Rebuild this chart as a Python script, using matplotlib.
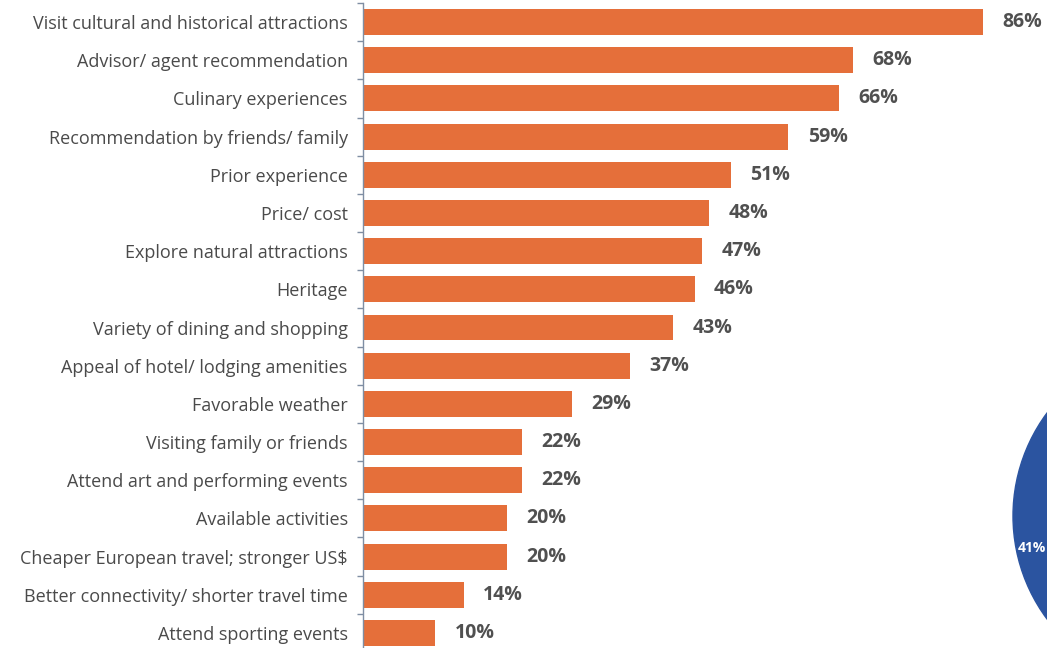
import numpy as np
import matplotlib.pyplot as plt
from matplotlib.patches import Ellipse

# survey answers, top to bottom
categories = [
    'Visit cultural and historical attractions',
    'Advisor/ agent recommendation',
    'Culinary experiences',
    'Recommendation by friends/ family',
    'Prior experience',
    'Price/ cost',
    'Explore natural attractions',
    'Heritage',
    'Variety of dining and shopping',
    'Appeal of hotel/ lodging amenities',
    'Favorable weather',
    'Visiting family or friends',
    'Attend art and performing events',
    'Available activities',
    'Cheaper European travel; stronger US$',
    'Better connectivity/ shorter travel time',
    'Attend sporting events',
]
values = [86, 68, 66, 59, 51, 48, 47, 46, 43, 37, 29, 22, 22, 20, 20, 14, 10]
side_label = '41%'

orange = '#e56f3a'
blue = '#2b54a0'
txt = '#4a4a4a'

plt.rcParams['font.family'] = ['Open Sans', 'DejaVu Sans']

W, H = 1047, 648
fig = plt.figure(figsize=(W / 100, H / 100), dpi=100)
ax = fig.add_axes([363 / W, -4 / H, 684 / W, 649 / H])

y = np.arange(len(categories))
ax.barh(y, values, height=0.68, color=orange)
ax.set_ylim(len(categories) - 0.5, -0.5)
ax.set_xlim(0, 94.9)

for yi, v in zip(y, values):
    ax.annotate(f'{v}%', (v, yi), xytext=(14, 0), textcoords='offset points',
                va='center', ha='left', fontsize=14, fontweight='bold', color='#505050')

ax.set_yticks(y)
ax.set_yticklabels(categories, fontsize=13, color=txt)
ax.tick_params(axis='y', which='major', length=0, pad=11)
ax.set_yticks(np.arange(len(categories) + 1) - 0.5, minor=True)
ax.tick_params(axis='y', which='minor', length=4, color='#7f8ea3', width=1)
ax.set_xticks([])

for s in ['top', 'right', 'bottom']:
    ax.spines[s].set_visible(False)
ax.spines['left'].set_color('#7f8ea3')
ax.spines['left'].set_linewidth(1)

# partly visible blue circle on the right edge
circ = Ellipse((1186 / W, 1 - 516 / H), 2 * 173 / W, 2 * 173 / H,
               transform=fig.transFigure, color=blue, clip_on=False)
fig.patches.append(circ)
fig.text(1018 / W, 1 - 548 / H, side_label, color='white', fontsize=10,
         fontweight='bold', va='center', ha='left')

fig.savefig('out.png', dpi=100)
